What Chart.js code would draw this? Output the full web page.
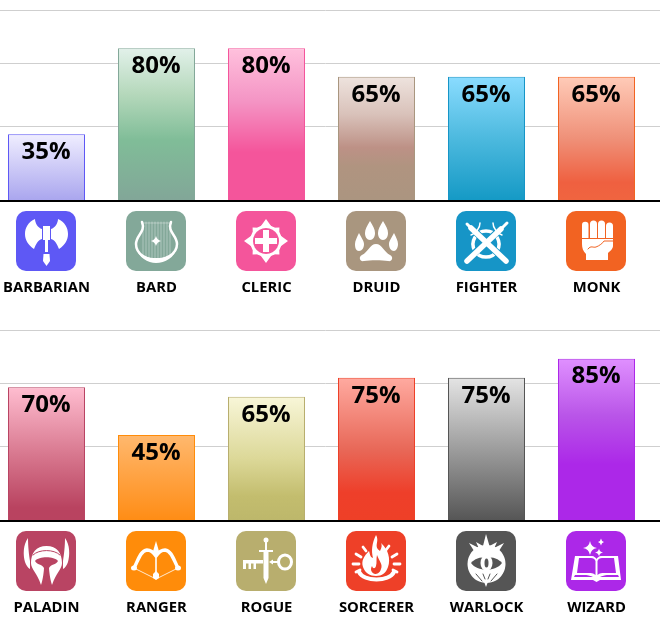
<!DOCTYPE html>
<html>
<head>
<meta charset="utf-8">
<script src="https://cdn.jsdelivr.net/npm/chart.js@4"></script>
<style>
html,body{margin:0;padding:0;background:#fff;overflow:hidden}
/* canvas sits 9px off the left edge, the first bar starts nearer the edge than half a category */
canvas{position:absolute;left:-9px}
#chartTop{top:0}
#chartBottom{top:320px}
</style>
</head>
<body>
<canvas id="chartTop" width="669" height="320"></canvas>
<canvas id="chartBottom" width="669" height="320"></canvas>
<script>
// ================= DATA =================
const classesTop = ["BARBARIAN","BARD","CLERIC","DRUID","FIGHTER","MONK"];
const valuesTop = [35,80,80,65,65,65];
const classesBottom = ["PALADIN","RANGER","ROGUE","SORCERER","WARLOCK","WIZARD"];
const valuesBottom = [70,45,65,75,75,85];
const gridTicks = [39,72,100];

// ================= STYLES =================
const classColors = {
    BARBARIAN:"#5e58f5", BARD:"#83a899", CLERIC:"#f4559b", DRUID:"#a9967f",
    FIGHTER:"#1695c7", MONK:"#f26322", PALADIN:"#b94463", RANGER:"#ff8c0a",
    ROGUE:"#b8ae6e", SORCERER:"#ee4028", WARLOCK:"#555555", WIZARD:"#ac28e8"
};
const barStops = {
    BARBARIAN:[[0,"#f0eeff"],[1,"#a9a5ee"]],
    BARD:[[0,"#e2f1ea"],[0.3,"#b5d8bb"],[0.6,"#80bd98"],[1,"#82a698"]],
    CLERIC:[[0,"#ffc1dd"],[0.35,"#f494c4"],[0.68,"#f4559b"],[1,"#f4559b"]],
    DRUID:[[0,"#eee3de"],[0.3,"#d9c2ba"],[0.57,"#bd9186"],[0.72,"#b09480"],[1,"#ab9580"]],
    FIGHTER:[[0,"#8adcff"],[0.5,"#4cb9de"],[1,"#1499c5"]],
    MONK:[[0,"#ffcbb8"],[0.5,"#ef9078"],[0.85,"#ef6040"],[1,"#f06540"]],
    PALADIN:[[0,"#ffbdd0"],[0.5,"#d8788f"],[0.9,"#b94360"],[1,"#b94360"]],
    RANGER:[[0,"#ffb86e"],[1,"#ff8c14"]],
    ROGUE:[[0,"#f8f6d8"],[0.5,"#dcd898"],[0.8,"#c3bd6e"],[1,"#bdb76b"]],
    SORCERER:[[0,"#ffaaa0"],[0.5,"#e86858"],[0.8,"#ee3f2a"],[1,"#ee4027"]],
    WARLOCK:[[0,"#e4e4e4"],[1,"#555555"]],
    WIZARD:[[0,"#e090ff"],[0.35,"#b955e8"],[0.65,"#ac28e8"],[1,"#ac28e8"]]
};

// ================= ICONS =================
// f fill white, k fill background, s stroke white, K stroke background, t thin faint stroke
function star(cx,cy,n,r1,r2,rot=0){
    let d = "";
    for(let i=0;i<n*2;i++){
        const r = i%2 ? r2 : r1;
        const a = Math.PI*i/n - Math.PI/2 + rot;
        d += (i?"L":"M")+(cx+r*Math.cos(a)).toFixed(1)+" "+(cy+r*Math.sin(a)).toFixed(1);
    }
    return d+"Z";
}
const icons = {
    BARBARIAN:[
        ["f","M26 18C22 17 19 12 19 8C12 11 9 17 9 23C9 29 12 34 18 38C20 33 22 29 26 28Z"],
        ["f","M35 18C39 17 42 12 42 8C49 11 52 17 52 23C52 29 49 34 43 38C41 33 39 29 35 28Z"],
        ["f","M27 15H34V29H32V41H29V29H27Z"],
        ["f","M27.5 43H33.5L34 50L30.5 55L27 50Z"]
    ],
    BARD:[
        ["t","M17 12V44M20 11V46M23 11V48M26 11V49M29 11V50M32 11V50M35 11V49M38 11V48M41 11V46M44 12V44"],
        ["t","M16 12H45"],
        ["s","M16 11C20 21 10 24 10 33C10 44 22 49 30 49C38 49 51 44 51 33C51 24 41 21 45 11",2.5],
        ["f","M11 38C15 46 23 47 30 47C38 47 46 46 50 38C49 46 39 52 30 52C22 52 12 46 11 38Z"],
        ["f","M30 25Q31 29 35 30Q31 31 30 35Q29 31 25 30Q29 29 30 25Z"]
    ],
    CLERIC:[
        ["f",star(30,30,4,22,13)],
        ["f",star(30,30,4,19,13,Math.PI/4)],
        ["f","M30 14a16 16 0 1 0 .01 0Z"],
        ["k","M30 17a13 13 0 1 0 .01 0Z"],
        ["f","M27 19H33V27H41V33H33V41H27V33H19V27H27Z"]
    ],
    DRUID:[
        ["f","M24 10C27 15 29 18 29 22C29 26 27 29 24 29C21 29 19 26 19 22C19 18 21 15 24 10Z"],
        ["f","M37 10C40 15 42 18 42 22C42 26 40 29 37 29C34 29 32 26 32 22C32 18 34 15 37 10Z"],
        ["f","M13 22C15 26 18 30 18 33C18 37 16 40 13 40C10 40 9 37 9 33C9 30 11 26 13 22Z"],
        ["f","M48 22C50 26 52 30 52 33C52 37 50 40 48 40C45 40 43 37 43 33C43 30 46 26 48 22Z"],
        ["f","M30 33C36 33 38 41 44 44C48 46 46 51 42 50C36 49 24 49 18 50C14 51 12 46 16 44C22 41 24 33 30 33Z"]
    ],
    FIGHTER:[
        ["s","M30 20a13 13 0 1 0 .01 0Z",3.5],
        ["K","M10 50L50 13M11 13L50 50",7],
        ["s","M11 50L45 18",5.5],
        ["s","M47 16L51 12",3],
        ["s","M15 17L50 50",5.5],
        ["s","M11 13L14 16",3],
        ["s","M24 12C24 17 20 22 15 24M37 12C37 17 41 22 46 24",1.5]
    ],
    MONK:[
        ["f","M16 14a3 3 0 0 1 6.5 0V27H16Z"],
        ["f","M24 13a3.5 3.5 0 0 1 7 0V27H24Z"],
        ["f","M32 13a3.5 3.5 0 0 1 7 0V27H32Z"],
        ["f","M40 15a3.5 3.5 0 0 1 7 0V27H40Z"],
        ["f","M16 28H47V35C47 38 44 40 42 42V49H20V43C17 40 16 37 16 33Z"],
        ["K","M22 38C25 34 27 37 30 36C33 35 37 32 38 30H47",1]
    ],
    PALADIN:[
        ["f","M12 7C7 14 7 24 9 31C10 34 12 37 14 38L14 30C13 24 12 15 12 7Z"],
        ["f","M49 7C54 14 54 24 52 31C51 34 49 37 47 38L47 30C48 24 49 15 49 7Z"],
        ["f","M30.5 15C20 15 15 22 15 32C15 38 21 42 25 54C27 48 28 40 28 36H33C33 40 34 48 36 54C40 42 46 38 46 32C46 22 41 15 30.5 15Z"],
        ["k","M19 30C23 25 38 25 42 30C40 34 35 33 33 37H28C26 33 21 34 19 30Z"],
        ["K","M17 24C23 18 38 18 44 24",1]
    ],
    RANGER:[
        ["s","M8 37C12 30 14 20 21 19C25 19 28 22 30 25C32 22 35 19 39 19C46 20 48 30 52 37",3.5],
        ["s","M8 37L30 48L52 37",0.8],
        ["f","M30 10L33.5 22H26.5Z"],
        ["s","M30 20V46",1.6],
        ["f","M27 43L30 40L33 43V47L30 49L27 47Z"],
        ["f","M5 37a3 2.5 0 1 0 6 0a3 2.5 0 1 0 -6 0Z"],
        ["f","M49 37a3 2.5 0 1 0 6 0a3 2.5 0 1 0 -6 0Z"]
    ],
    ROGUE:[
        ["f","M27.5 9a2.5 2.5 0 1 0 5 0a2.5 2.5 0 1 0 -5 0Z"],
        ["f","M29 11H31V19H37V21H23V19H29Z"],
        ["f","M27.5 21H32.5V47L30 53L27.5 47Z"],
        ["f","M7 29H27V32.5H20V38H17.5V32.5H15V38H12.5V32.5H10V38H7Z"],
        ["f","M33 31L37 28.5V33.5Z"],
        ["s","M37 31H43",2],
        ["s","M42.5 31a6.5 7 0 1 0 13 0a6.5 7 0 1 0 -13 0Z",3]
    ],
    SORCERER:[
        ["f","M30 4C34 11 27 15 34 20C36 16 36 14 35 12C42 18 45 28 42 36C40 42 36 45 30 45C24 45 19 42 17 36C15 30 18 25 23 20C24 23 24 26 27 27C25 20 26 12 30 4Z"],
        ["k","M31 24C33 30 37 33 35 38C34 42 31 43 29 43C25 42 24 38 26 35C27 38 29 38 30 35C31 32 30 28 31 24Z"],
        ["s","M13 41C18 51 43 51 48 41",4],
        ["s","M7 33H13M48 33H54M10 23L15 26M51 23L46 26M17 16L20 20M43 15L40 19M10 41L14 39M51 41L47 39",2.8]
    ],
    WARLOCK:[
        ["f","M30.5 14a19 19 0 1 0 .01 0Z"],
        ["f","M30 3L33.5 15L41 11L37 20H24L20 11L27 15Z"],
        ["f","M13 12L25 18L20 23Z"],
        ["f","M48 12L36 18L41 23Z"],
        ["f","M30 56L27 48L30 42L33 48Z"],
        ["k","M15 32C21 24 40 24 46 32C40 41 21 41 15 32Z"],
        ["f","M24.5 32a6 8 0 1 0 12 0a6 8 0 1 0 -12 0Z"],
        ["k","M28.5 32a2 4.5 0 1 0 4 0a2 4.5 0 1 0 -4 0Z"],
        ["K","M20 43L26 50M41 43L35 50M27 43L29 48M34 43L32 48",1]
    ],
    WIZARD:[
        ["f","M9 25H26C28 25 30 27 30.5 28C31 27 33 25 35 25H52L55 49H34L30.5 51L27 49H5Z"],
        ["k","M13 27H25C27 27 29 28 29.5 30V44C27 42 25 42 23 42H11ZM48 27H36C34 27 32 28 31.5 30V44C34 42 36 42 38 42H50Z"],
        ["k","M9 44L8 46H27C25 45 22 44 20 44ZM52 44L53 46H34C36 45 39 44 41 44Z"],
        ["f","M24 10Q25 16 31 17Q25 18 24 24Q23 18 17 17Q23 16 24 10Z"],
        ["f","M33 17.5Q33.5 21 37 21.5Q33.5 22 33 25.5Q32.5 22 29 21.5Q32.5 21 33 17.5Z"],
        ["f","M35 7.5Q35.5 10.5 38 11Q35.5 11.5 35 14.5Q34.5 11.5 32 11Q34.5 10.5 35 7.5Z"]
    ]
};

function drawIcon(ctx,name,x,y){
    const bg = classColors[name];
    ctx.save();
    ctx.translate(x,y);
    ctx.fillStyle = bg;
    ctx.beginPath();
    ctx.roundRect(0,0,60,60,10);
    ctx.fill();
    ctx.lineCap = "round";
    ctx.lineJoin = "round";
    icons[name].forEach(([mode,d,w])=>{
        const p = new Path2D(d);
        if(mode==="f"){ ctx.fillStyle="#fff"; ctx.fill(p); }
        else if(mode==="k"){ ctx.fillStyle=bg; ctx.fill(p); }
        else if(mode==="s"){ ctx.strokeStyle="#fff"; ctx.lineWidth=w; ctx.stroke(p); }
        else if(mode==="K"){ ctx.strokeStyle=bg; ctx.lineWidth=w; ctx.stroke(p); }
        else { ctx.strokeStyle="rgba(255,255,255,.45)"; ctx.lineWidth=0.8; ctx.stroke(p); }
    });
    ctx.restore();
}

// ================= CHART ENGINE =================
// grid and baseline run the full canvas width, past the end of the chart area
const panelPlugin = {
    id:"panel",
    beforeDatasetsDraw(chart){
        const ctx = chart.ctx, y = chart.scales.y;
        ctx.save();
        ctx.strokeStyle = "#cfcfcf";
        ctx.lineWidth = 1;
        gridTicks.forEach(t=>{
            const py = Math.round(y.getPixelForValue(t)-0.5)+0.5;
            ctx.beginPath();
            ctx.moveTo(0,py);
            ctx.lineTo(chart.width,py);
            ctx.stroke();
        });
        ctx.restore();
    },
    afterDatasetsDraw(chart){
        const ctx = chart.ctx, x = chart.scales.x, y = chart.scales.y;
        const base = y.getPixelForValue(0);
        ctx.save();
        ctx.strokeStyle = "#000";
        ctx.lineWidth = 2;
        ctx.beginPath();
        ctx.moveTo(0,base);
        ctx.lineTo(chart.width,base);
        ctx.stroke();

        const bars = chart.getDatasetMeta(0).data;
        ctx.fillStyle = "#000";
        ctx.font = "bold 24px 'Open Sans'";
        ctx.textAlign = "center";
        ctx.textBaseline = "middle";
        chart.data.datasets[0].data.forEach((v,i)=>{
            ctx.fillText(v+"%",bars[i].x-0.5,bars[i].y+18);
        });
        ctx.restore();

        chart.data.labels.forEach((name,i)=>{
            drawIcon(ctx,name,Math.round(x.getPixelForTick(i)-30.5),base+10);
        });
    }
};

function buildChart(id,labels,values){
    const ctx = document.getElementById(id).getContext("2d");
    return new Chart(ctx,{
        type:"bar",
        data:{
            labels:labels,
            datasets:[{
                data:values,
                barPercentage:0.7,
                categoryPercentage:1,
                borderWidth:1,
                borderColor:labels.map(n=>classColors[n]),
                backgroundColor(c){
                    const chart = c.chart, i = c.dataIndex;
                    if(!chart.chartArea) return classColors[labels[i]];
                    const y = chart.scales.y;
                    const g = chart.ctx.createLinearGradient(0,y.getPixelForValue(values[i]),0,y.getPixelForValue(0));
                    barStops[labels[i]].forEach(s=>g.addColorStop(s[0],s[1]));
                    return g;
                }
            }]
        },
        options:{
            responsive:false,
            animation:false,
            layout:{padding:{top:10,left:0.5,right:8.5,bottom:0}},
            scales:{
                x:{
                    grid:{display:false,drawTicks:false},
                    border:{display:false},
                    afterFit(scale){
                        scale.height = 119;
                        scale.paddingLeft = 0;
                        scale.paddingRight = 0;
                    },
                    ticks:{
                        color:"#000",
                        padding:78,
                        autoSkip:false,
                        maxRotation:0,
                        font:{family:"'Open Sans'",size:14.8,weight:"bold"}
                    }
                },
                y:{min:0,max:100,display:false}
            },
            plugins:{legend:{display:false},tooltip:{enabled:false}}
        },
        plugins:[panelPlugin]
    });
}

buildChart("chartTop",classesTop,valuesTop);
buildChart("chartBottom",classesBottom,valuesBottom);
</script>
</body>
</html>
